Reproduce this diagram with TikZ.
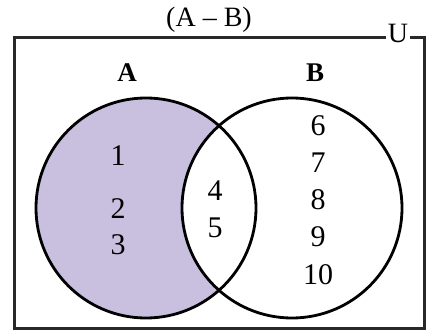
\documentclass[tikz,border=0pt]{standalone}
\usepackage{fontspec}
\setmainfont{Liberation Serif}
\definecolor{lav}{RGB}{201,192,223}
\definecolor{boxc}{RGB}{40,40,40}
\begin{document}
\begin{tikzpicture}[x=1pt,y=-1pt,
  txt/.style={font=\fontsize{30}{30}\selectfont, inner sep=0pt},
  ttl/.style={font=\fontsize{28}{28}\selectfont, inner sep=0pt},
  usty/.style={font=\fontsize{28}{28}\selectfont, inner sep=0pt},
  lbl/.style={font=\fontsize{27}{27}\selectfont\bfseries, inner sep=0pt},
  ring/.style={draw=black, line width=2.8pt}]
\useasboundingbox (0,0) rectangle (430,331);
\coordinate (ca) at (146,208);
\coordinate (cb) at (292,208);
\fill[lav] (ca) circle (110);
\fill[white] (cb) circle (110);
\draw[ring] (ca) circle (110);
\draw[ring] (cb) circle (110);
\draw[boxc, line width=2.6pt] (14.5,37.5) rectangle (424.5,328.5);
\node[usty, fill=white, inner xsep=2pt, inner ysep=1pt] (u) at (398,33) {U};
\node[ttl] (t) at (209,20) {(A – B)};
\node[lbl] (la) at (127,73) {A};
\node[lbl] (lb) at (315,73) {B};
\node[txt] (n1) at (118,156) {1};
\node[txt] (n2) at (118,209) {2};
\node[txt] (n3) at (118,245) {3};
\node[txt] (n4) at (215,191) {4};
\node[txt] (n5) at (215,228) {5};
\node[txt] (n6) at (318,126) {6};
\node[txt] (n7) at (318,163) {7};
\node[txt] (n8) at (318,200) {8};
\node[txt] (n9) at (318,237) {9};
\node[txt] (n10) at (318,275) {10};
\end{tikzpicture}
\end{document}
